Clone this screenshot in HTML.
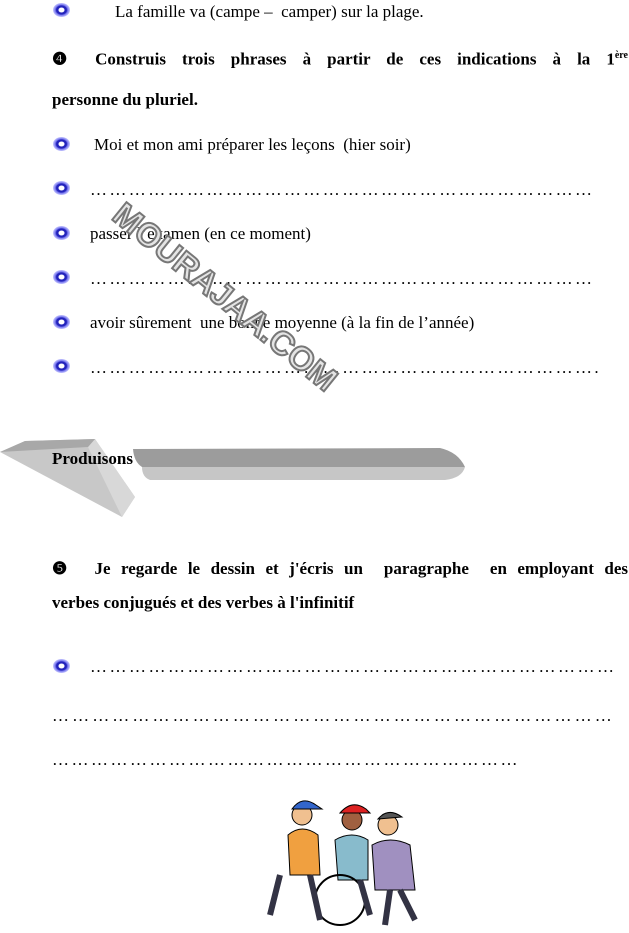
<!DOCTYPE html>
<html><head><meta charset="utf-8"><style>
body{margin:0;width:629px;height:933px;position:relative;background:#fff;font-family:"Liberation Serif",serif;font-size:17px;color:#000;overflow:hidden}
.t{position:absolute;white-space:nowrap;line-height:20px}
.d{letter-spacing:2.4px}
.b{font-weight:bold}
.ic{position:absolute;width:17px;height:14px;border-radius:50%;background:radial-gradient(ellipse,#fff 0 22%,#2222bb 28% 42%,#7777ee 52%,#ccccff 72%,transparent 80%)}
</style></head><body>
<div class="ic" style="left:53px;top:3px"></div>
<div class="t" style="left:115px;top:2px">La famille va (campe –&nbsp; camper) sur la plage.</div>
<div class="t b" style="left:52px;top:46px;width:576px;text-align:justify;text-align-last:justify">❹ Construis trois phrases à partir de ces indications à la 1<sup style="font-size:10px">ère</sup></div>
<div class="t b" style="left:52px;top:90px">personne du pluriel.</div>
<div class="ic" style="left:53px;top:137px"></div>
<div class="t" style="left:94px;top:135px">Moi et mon ami préparer les leçons&nbsp; (hier soir)</div>
<div class="ic" style="left:53px;top:181px"></div>
<div class="t d" style="left:90px;top:180px">……………………………………………………………………</div>
<div class="ic" style="left:53px;top:226px"></div>
<div class="t" style="left:90px;top:224px">passer l’examen (en ce moment)</div>
<div class="ic" style="left:53px;top:270px"></div>
<div class="t d" style="left:90px;top:269px">……………………………………………………………………</div>
<div class="ic" style="left:53px;top:315px"></div>
<div class="t" style="left:90px;top:313px">avoir sûrement&nbsp; une bonne moyenne (à la fin de l’année)</div>
<div class="ic" style="left:53px;top:359px"></div>
<div class="t d" style="left:90px;top:358px">…………………………………………………………………….</div>
<div style="position:absolute;left:75px;top:278px;width:300px;text-align:center;transform:rotate(39deg);font:bold 33px 'Liberation Sans',sans-serif;color:#e4e4e4;-webkit-text-stroke:2px #777;white-space:nowrap">MOURAJAA.COM</div>
<svg style="position:absolute;left:0;top:430px" width="470" height="95">
<polygon points="0,22 25,11 95,9 135,67 122,87" fill="#c8c8c8"/>
<polygon points="95,9 135,67 122,87 88,17" fill="#d8d8d8"/>
<polygon points="0,22 25,11 95,9 88,17" fill="#a8a8a8"/>
<path d="M133,19 L440,18 Q458,22 465,37 L142,37 Q134,32 133,19Z" fill="#9c9c9c"/>
<path d="M142,37 L465,37 Q462,48 445,50 L150,50 Q142,47 142,37Z" fill="#c6c6c6"/>
</svg>
<div class="t b" style="left:52px;top:449px">Produisons</div>
<div class="t b" style="left:52px;top:559px;width:576px;text-align:justify;text-align-last:justify">❺ &nbsp;Je regarde le dessin et j'écris un&nbsp; paragraphe&nbsp; en employant des</div>
<div class="t b" style="left:52px;top:593px">verbes conjugués et des verbes à l'infinitif</div>
<div class="ic" style="left:53px;top:659px"></div>
<div class="t d" style="left:90px;top:657px;letter-spacing:2.5px">………………………………………………………………………</div>
<div class="t d" style="left:52px;top:706px;letter-spacing:3.1px">…………………………………………………………………………</div>
<div class="t d" style="left:52px;top:750px;letter-spacing:2.5px">………………………………………………………………</div>
<svg style="position:absolute;left:250px;top:795px" width="180" height="138">
<circle cx="52" cy="20" r="10" fill="#f0c090" stroke="#000"/><path d="M42,14 Q52,0 66,10 L72,14 L60,14Z" fill="#3366cc" stroke="#000"/>
<path d="M38,40 Q52,28 68,40 L70,80 L40,80Z" fill="#f0a040" stroke="#000"/>
<circle cx="102" cy="25" r="10" fill="#a06040" stroke="#000"/><path d="M90,18 Q102,4 116,14 L120,18Z" fill="#dd2222" stroke="#000"/>
<path d="M85,45 Q102,35 118,45 L118,85 L88,85Z" fill="#88bbcc" stroke="#000"/>
<circle cx="138" cy="30" r="10" fill="#f0c090" stroke="#000"/><path d="M128,24 Q138,12 152,22Z" fill="#555" stroke="#000"/>
<path d="M122,50 Q140,40 160,50 L165,95 L125,95Z" fill="#a090c0" stroke="#000"/>
<circle cx="90" cy="105" r="25" fill="none" stroke="#000" stroke-width="2"/>
<path d="M30,80 L20,120 M60,80 L70,125 M110,85 L120,120 M140,95 L135,130 M150,95 L165,125" stroke="#334" stroke-width="6"/>
</svg>
</body></html>
